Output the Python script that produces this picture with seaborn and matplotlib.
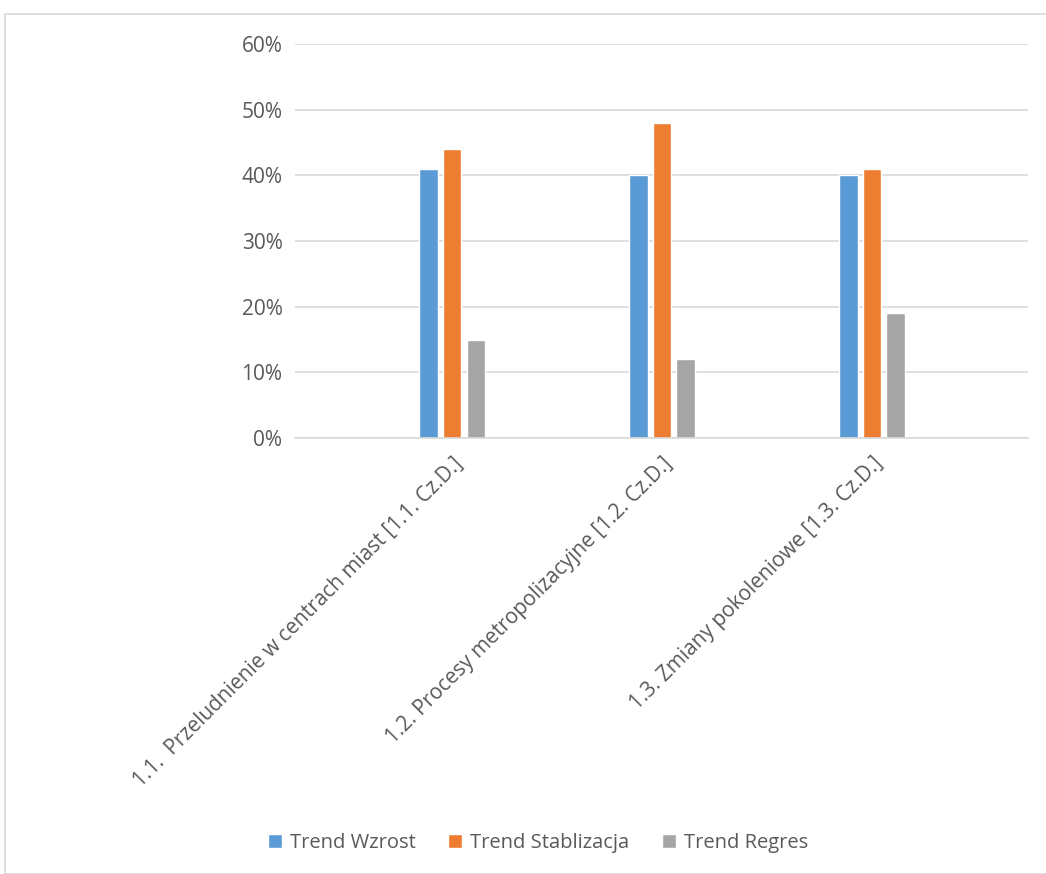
import matplotlib
matplotlib.use("Agg")
import matplotlib.pyplot as plt
import seaborn as sns
import pandas as pd
from matplotlib.patches import Rectangle
from matplotlib.ticker import PercentFormatter

categories = [
    "1.1.  Przeludnienie w centrach miast [1.1. Cz.D.]",
    "1.2. Procesy metropolizacyjne [1.2. Cz.D.]",
    "1.3. Zmiany pokoleniowe [1.3. Cz.D.]",
]
series = ["Trend Wzrost", "Trend Stablizacja", "Trend Regres"]
wzrost = [41, 40, 40]
stablizacja = [44, 48, 41]
regres = [15, 12, 19]
colors = ["#5B9BD5", "#ED7D31", "#A5A5A5"]

df = pd.DataFrame({
    "cat": categories * 3,
    "series": [s for s in series for _ in categories],
    "value": wzrost + stablizacja + regres,
})

sns.set_style("white")
plt.rcParams["font.family"] = ["Open Sans", "DejaVu Sans"]
text_col = "#595959"

fig = plt.figure(figsize=(10.46, 8.74), dpi=100)
fig.patches.append(Rectangle((5 / 1046, 0), 1.0, 1 - 14 / 874, transform=fig.transFigure,
                             fill=False, edgecolor="#D9D9D9", linewidth=1.2))
ax = fig.add_axes([295 / 1046, 1 - 438 / 874, (1028 - 295) / 1046, (438 - 44) / 874])

sns.barplot(data=df, x="cat", y="value", hue="series", palette=colors,
            width=0.336, gap=0.23, ax=ax, legend=True, saturation=1)

ax.set_ylim(0, 60)
ax.set_yticks(range(0, 61, 10))
ax.yaxis.set_major_formatter(PercentFormatter(decimals=0))
ax.set_xlim(-0.748, 2.743)
ax.grid(axis="y", color="#D9D9D9", linewidth=1.2)
ax.set_axisbelow(True)
for s in ["top", "right", "left"]:
    ax.spines[s].set_visible(False)
ax.spines["bottom"].set_color("#D9D9D9")
ax.spines["bottom"].set_linewidth(1.2)
ax.set_xlabel("")
ax.set_ylabel("")
ax.tick_params(axis="both", length=0, colors=text_col, labelsize=15)
ax.tick_params(axis="y", pad=9)
plt.setp(ax.get_xticklabels(), rotation=45, ha="right", rotation_mode="anchor")
ax.tick_params(axis="x", pad=11)

handles, labels = ax.get_legend_handles_labels()
ax.legend(handles, labels, loc="center", bbox_to_anchor=(538 / 1046, 1 - 843 / 874),
          bbox_transform=fig.transFigure, ncol=3, frameon=False, fontsize=14.5,
          handlelength=0.7, handleheight=0.7, handletextpad=0.4, columnspacing=1.6,
          labelcolor=text_col)

fig.savefig("out.png", dpi=100)
